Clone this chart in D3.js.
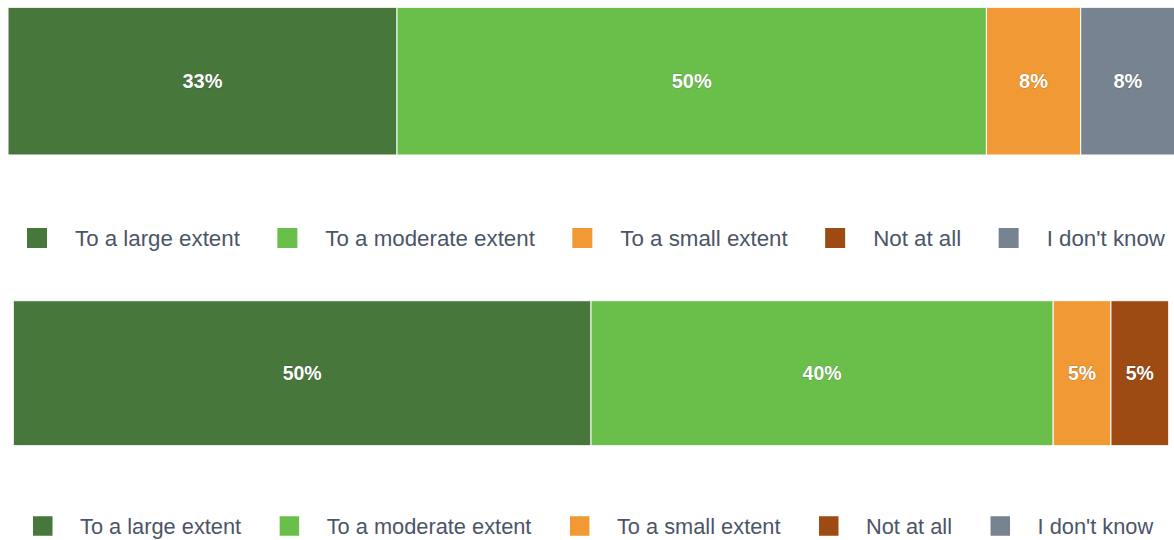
<!DOCTYPE html>
<html>
<head>
<meta charset="utf-8">
<script src="https://cdn.jsdelivr.net/npm/d3@7"></script>
<style>
  html, body { margin: 0; padding: 0; background: #ffffff; }
  svg { display: block; }
</style>
</head>
<body>
<svg id="chart" width="1174" height="540"></svg>
<script>
// Response categories and their colours
const categories = ["To a large extent", "To a moderate extent", "To a small extent", "Not at all", "I don't know"];
const colors = ["#48773C", "#6ABF4B", "#F19934", "#9E4A13", "#778390"];

// Share of responses (%) for each of the two questions
const valuesTop = [33, 50, 8, 0, 8];
const valuesBottom = [50, 40, 5, 5, 0];

const svg = d3.select("#chart");

// Layout of the two stacked-bar panels
const panels = [
  { values: valuesTop, left: 8, right: 1175, top: 7.3, bottom: 155,
    labelSize: 20, legendLeft: 27, legendY: 238, legendSize: 22.3, swatch: 20, textGap: 48, itemGap: 37.5 },
  { values: valuesBottom, left: 13.3, right: 1168.7, top: 300.7, bottom: 445.7,
    labelSize: 19.5, legendLeft: 33, legendY: 526, legendSize: 21.8, swatch: 19.5, textGap: 47, itemGap: 38.5 }
];

panels.forEach((p, pi) => {
  const total = d3.sum(p.values);
  const x = d3.scaleLinear().domain([0, total]).range([p.left, p.right]);
  const y = d3.scaleBand().domain([pi]).range([p.top, p.bottom]).padding(0);

  // cumulative stacking
  let acc = 0;
  const segs = p.values.map((v, i) => {
    const s = { i, v, x0: acc, x1: acc + v };
    acc += v;
    return s;
  }).filter(s => s.v > 0);

  const g = svg.append("g");

  g.selectAll("rect.seg")
    .data(segs)
    .join("rect")
    .attr("class", "seg")
    .attr("x", d => x(d.x0))
    .attr("y", y(pi))
    .attr("width", d => x(d.x1) - x(d.x0))
    .attr("height", y.bandwidth())
    .attr("fill", d => colors[d.i])
    .attr("stroke", "#ffffff")
    .attr("stroke-width", 1);

  g.selectAll("text.lbl")
    .data(segs)
    .join("text")
    .attr("class", "lbl")
    .attr("x", d => (x(d.x0) + x(d.x1)) / 2)
    .attr("y", y(pi) + y.bandwidth() / 2)
    .attr("dy", "0.35em")
    .attr("text-anchor", "middle")
    .attr("font-family", "'Liberation Sans', Arial, sans-serif")
    .attr("font-weight", "bold")
    .attr("font-size", p.labelSize)
    .attr("fill", "#ffffff")
    .attr("stroke", "rgba(0,0,0,0.18)")
    .attr("stroke-width", 1.2)
    .attr("paint-order", "stroke")
    .text(d => d.v + "%");

  // legend row
  const lg = svg.append("g");
  let cx = p.legendLeft;
  categories.forEach((c, i) => {
    lg.append("rect")
      .attr("x", cx)
      .attr("y", p.legendY - p.swatch / 2)
      .attr("width", p.swatch)
      .attr("height", p.swatch)
      .attr("fill", colors[i]);
    const t = lg.append("text")
      .attr("x", cx + p.textGap)
      .attr("y", p.legendY + p.legendSize * 0.36)
      .attr("font-family", "'Liberation Sans', Arial, sans-serif")
      .attr("font-size", p.legendSize)
      .attr("fill", "#4B5568")
      .text(c);
    cx += p.textGap + t.node().getComputedTextLength() + p.itemGap;
  });
});
</script>
</body>
</html>
